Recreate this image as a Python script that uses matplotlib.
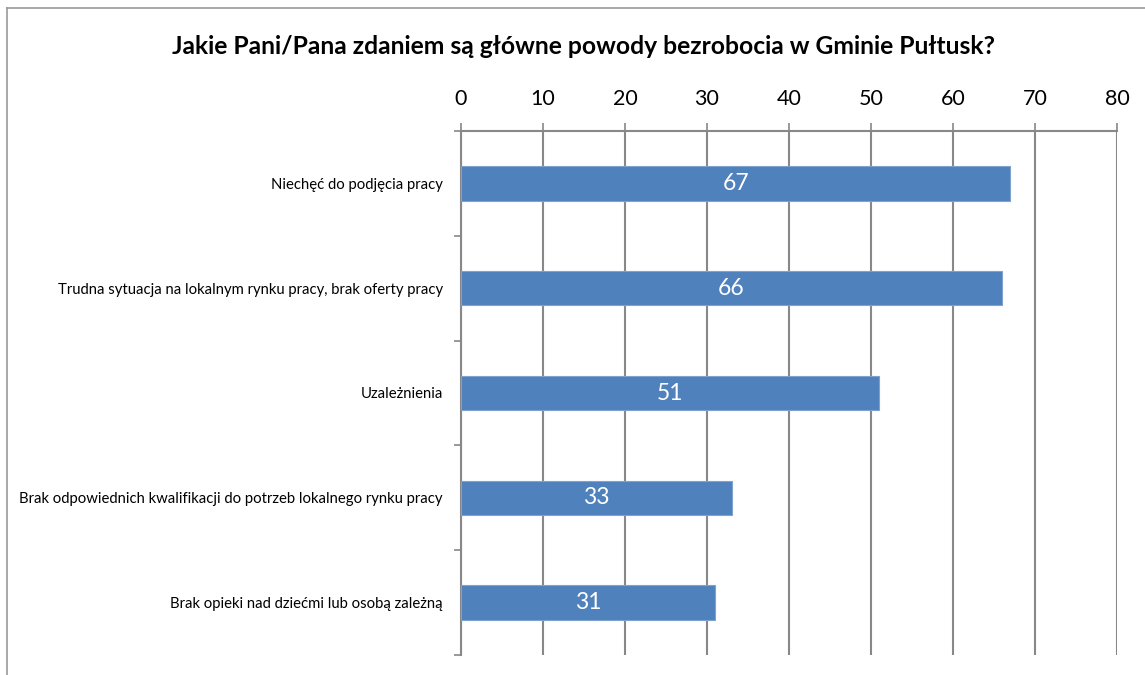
import matplotlib
matplotlib.use("Agg")
import matplotlib.pyplot as plt
from matplotlib.lines import Line2D
import numpy as np

## Data
categories = [
    "Niechęć do podjęcia pracy",
    "Trudna sytuacja na lokalnym rynku pracy, brak oferty pracy",
    "Uzależnienia",
    "Brak odpowiednich kwalifikacji do potrzeb lokalnego rynku pracy",
    "Brak opieki nad dziećmi lub osobą zależną",
]
values = [67, 66, 51, 33, 31]
x_ticks = [0, 10, 20, 30, 40, 50, 60, 70, 80]
title = "Jakie Pani/Pana zdaniem są główne powody bezrobocia w Gminie Pułtusk?"

plt.rcParams['font.family'] = ['Lato', 'DejaVu Sans']
grey = '#888888'

fig = plt.figure(figsize=(11.45, 6.75), dpi=100)
ax = fig.add_axes([461/1145, 1-655/675, (1117-461)/1145, (655-131)/675])

pos = np.arange(len(categories))
bars = ax.barh(pos, values, height=0.33, color='#4F81BD', edgecolor='#7FA3CF',
               linewidth=0.8, zorder=3)

## value labels inside bars
for p, v in zip(pos, values):
    ax.text(v/2, p, str(v), color='white', fontsize=16.5, ha='center', va='center', zorder=4)

ax.set_xlim(0, 80)
ax.set_ylim(len(categories)-0.5, -0.5)
ax.xaxis.tick_top()
ax.set_xticks(x_ticks)
ax.set_xticklabels([str(t) for t in x_ticks], fontsize=15.5)
ax.tick_params(axis='x', length=6, color=grey, width=1.2, pad=10)
ax.grid(axis='x', color=grey, linewidth=1.5, zorder=0)

ax.set_yticks(pos)
ax.set_yticklabels(categories, fontsize=10.7)
ax.set_yticks(np.arange(len(categories)+1) - 0.5, minor=True)
ax.tick_params(axis='y', which='major', length=0, pad=13)
ax.tick_params(axis='y', which='minor', length=5, color=grey, width=1.2)

for side in ['right', 'bottom']:
    ax.spines[side].set_visible(False)
for side in ['left', 'top']:
    ax.spines[side].set_color(grey)
    ax.spines[side].set_linewidth(1.5)

fig.text(584/1145, 1-46/675, title, fontsize=17.7, fontweight='bold', ha='center', va='center')

## chart frame (only top and left edges visible in the crop)
fig.add_artist(Line2D([7/1145, 1], [1-8/675, 1-8/675], color='#999999', linewidth=1.2))
fig.add_artist(Line2D([7/1145, 7/1145], [0, 1-8/675], color='#999999', linewidth=1.2))

plt.savefig("out.png", dpi=100)
